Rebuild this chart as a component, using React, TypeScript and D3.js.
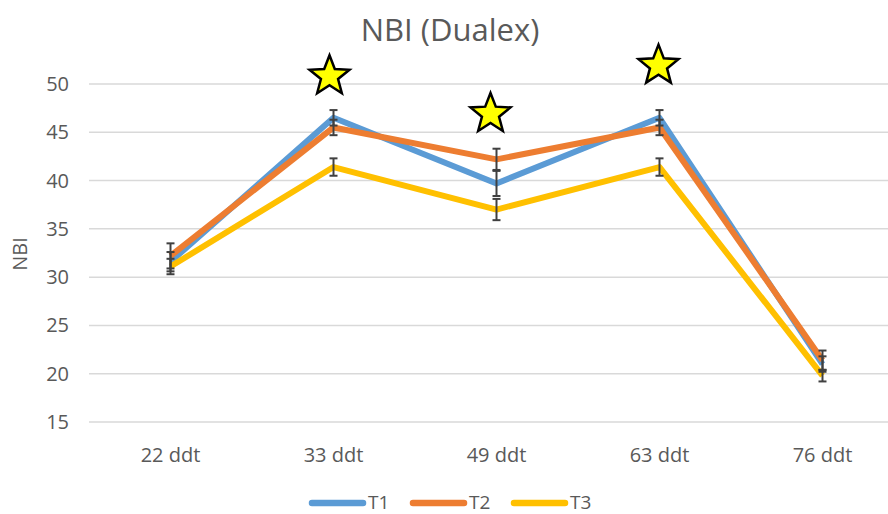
import React from "react";
import * as d3 from "d3";

const categories = ["22 ddt", "33 ddt", "49 ddt", "63 ddt", "76 ddt"];
const seriesNames = ["T1", "T2", "T3"];
const t1 = [31.6, 46.5, 39.7, 46.5, 21.0];
const t2 = [32.2, 45.5, 42.2, 45.5, 21.4];
const t3 = [31.1, 41.4, 37.0, 41.4, 19.8];
const t1Err = [1.0, 0.8, 1.3, 0.8, 0.8];
const t2Err = [1.3, 0.8, 1.1, 0.8, 1.0];
const t3Err = [0.8, 0.9, 1.1, 0.9, 0.6];
const yTicks = [15, 20, 25, 30, 35, 40, 45, 50];
const starCategories = ["33 ddt", "49 ddt", "63 ddt"];
const starValues = [50.8, 46.9, 51.9];
const starOffsets = [-4, -6, -1];

const colors = ["#5B9BD5", "#ED7D31", "#FFC000"];
const FONT = "'Open Sans', 'Liberation Sans', sans-serif";
const TEXT = "#595959";

function starPath(cx: number, cy: number, R: number, r: number) {
  const pts: string[] = [];
  for (let i = 0; i < 10; i++) {
    const rad = i % 2 === 0 ? R : r;
    const a = -Math.PI / 2 + (i * Math.PI) / 5;
    pts.push(`${cx + rad * Math.cos(a)},${cy + rad * Math.sin(a)}`);
  }
  return "M" + pts.join("L") + "Z";
}

export default function App() {
  const W = 888, H = 514;
  const x = d3.scaleBand<string>().domain(categories).range([89, 904]).padding(0);
  const cx = (c: string) => (x(c) as number) + x.bandwidth() / 2;
  const y = d3.scaleLinear().domain([15, 50]).range([422, 84]);
  const series = [t1, t2, t3];
  const errs = [t1Err, t2Err, t3Err];
  const line = d3
    .line<number>()
    .x((_, i) => cx(categories[i]))
    .y((d) => y(d));

  return (
    <svg width={W} height={H} style={{ position: "absolute", left: 0, top: 0, background: "#fff" }}>
      <rect width={W} height={H} fill="#fff" />
      <text x={450} y={41} textAnchor="middle" fontFamily={FONT} fontSize={31} fill={TEXT}>
        NBI (Dualex)
      </text>
      {yTicks.map((t) => (
        <g key={t}>
          <line x1={89} x2={W} y1={y(t)} y2={y(t)} stroke="#d9d9d9" strokeWidth={1.5} />
          <text x={69} y={y(t) + 7} textAnchor="end" fontFamily={FONT} fontSize={20} fill={TEXT}>
            {t}
          </text>
        </g>
      ))}
      <text
        transform={`translate(27,${254}) rotate(-90)`}
        textAnchor="middle"
        fontFamily={FONT}
        fontSize={20}
        fill={TEXT}
      >
        NBI
      </text>
      {categories.map((c) => (
        <text key={c} x={cx(c)} y={462} textAnchor="middle" fontFamily={FONT} fontSize={20} fill={TEXT}>
          {c}
        </text>
      ))}
      {series.map((s, si) => (
        <path
          key={si}
          d={line(s) || ""}
          fill="none"
          stroke={colors[si]}
          strokeWidth={6}
          strokeLinejoin="round"
        />
      ))}
      {series.map((s, si) =>
        s.map((v, i) => {
          const px = cx(categories[i]);
          const e = errs[si][i];
          return (
            <g key={`${si}-${i}`} stroke="#404040" strokeWidth={2}>
              <line x1={px} x2={px} y1={y(v + e)} y2={y(v - e)} />
              <line x1={px - 4} x2={px + 4} y1={y(v + e)} y2={y(v + e)} />
              <line x1={px - 4} x2={px + 4} y1={y(v - e)} y2={y(v - e)} />
            </g>
          );
        })
      )}
      {starCategories.map((c, i) => (
        <path
          key={c}
          d={starPath(cx(c) + starOffsets[i], y(starValues[i]), 21, 9)}
          fill="#FFFF00"
          stroke="#000"
          strokeWidth={2.5}
          strokeLinejoin="miter"
        />
      ))}
      {seriesNames.map((n, i) => {
        const lx = 312 + i * 101;
        return (
          <g key={n}>
            <line x1={lx} x2={lx + 51} y1={503} y2={503} stroke={colors[i]} strokeWidth={6.5} strokeLinecap="round" />
            <text x={lx + 56} y={509} fontFamily={FONT} fontSize={19} fill={TEXT}>
              {n}
            </text>
          </g>
        );
      })}
    </svg>
  );
}
